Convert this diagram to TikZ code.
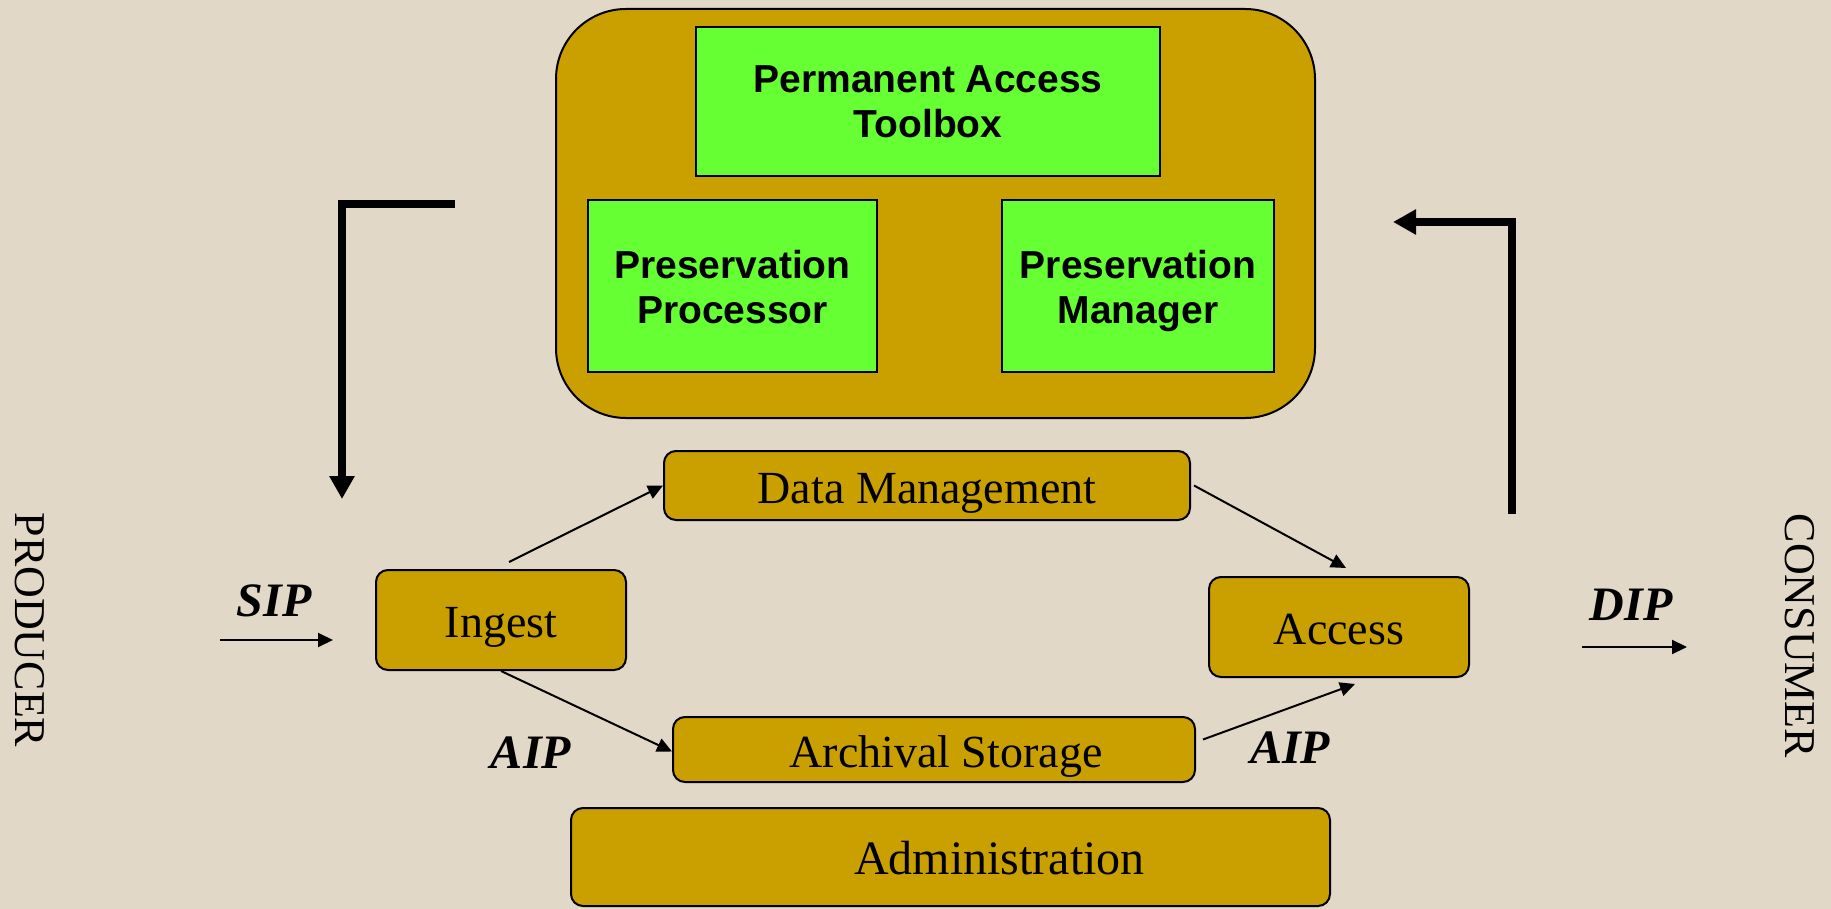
\documentclass[tikz,border=0pt]{standalone}
\usepackage{fontspec}
\setmainfont{Liberation Serif}
\newfontfamily\boxfont{Liberation Sans}
\usetikzlibrary{arrows.meta}
\definecolor{paper}{RGB}{226,216,200}
\definecolor{gold}{RGB}{201,160,0}
\definecolor{lime}{RGB}{102,255,51}

\begin{document}
\begin{tikzpicture}[x=1pt,y=-1pt,
        gold box/.style={draw, line width=2pt, fill=gold, rounded corners=12pt, inner sep=0pt,
                         text height=35pt, text depth=0pt, font=\fontsize{46}{46}\selectfont},
        green box/.style={draw, line width=2pt, fill=lime, inner sep=0pt, align=center,
                          font=\boxfont\bfseries\fontsize{39}{45}\selectfont},
        thin arrow/.style={line width=2pt, -{Triangle[length=15pt,width=14pt]}},
        thick arrow/.style={line width=8pt, miter limit=4, -{Triangle[length=23pt,width=24pt]}},
        flow label/.style={inner sep=0pt, font=\bfseries\itshape\fontsize{48}{48}\selectfont},
        side label/.style={inner sep=0pt, rotate=-90, font=\fontsize{44}{44}\selectfont}]
        \useasboundingbox (0,0) rectangle (1831,909);
        \fill[paper] (0,0) rectangle (1831,909);

        % preservation block
        \node[draw, line width=2pt, fill=gold, rounded corners=70pt,
              minimum width=759pt, minimum height=409pt] (frame) at (935.5,213.5) {};
        \node[green box, minimum width=464pt, minimum height=149pt] (toolbox)   at (928,102)
             {Permanent Access\\Toolbox};
        \node[green box, minimum width=289pt, minimum height=172pt] (processor) at (732.5,286)
             {\rule{0pt}{40pt}Preservation\\Processor\rule[-10pt]{0pt}{10pt}};
        \node[green box, minimum width=272pt, minimum height=172pt] (manager)   at (1138,286)
             {\rule{0pt}{40pt}Preservation\\Manager\rule[-10pt]{0pt}{10pt}};

        % OAIS functions
        \node[gold box, minimum width=526pt, minimum height=69pt]  (datamgmt) at (927,485.5)  {Data Management};
        \node[gold box, minimum width=250pt, minimum height=100pt] (ingest)   at (501,620)    {Ingest};
        \node[gold box, minimum width=260pt, minimum height=100pt] (access)   at (1339,627)   {Access};
        \node[gold box, minimum width=522pt, minimum height=65pt]  (storage)  at (934,749.5)  {\hspace*{24pt}Archival Storage};
        \node[gold box, minimum width=759pt, minimum height=98pt,
              font=\fontsize{48}{48}\selectfont]                   (admin)    at (950.5,857)  {\hspace*{98pt}Administration};

        \node[side label] (producer) at (30,630)   {PRODUCER};
        \node[side label] (consumer) at (1800,636) {CONSUMER};

        \node[flow label] (sip)      at (274,601)  {SIP};
        \node[flow label] (aipin)    at (531,753)  {AIP};
        \node[flow label] (aipout)   at (1290,748) {AIP};
        \node[flow label] (dip)      at (1631,605) {DIP};

        \coordinate (sipstart) at (220,640);
        \coordinate (sipend)   at (333,640);
        \coordinate (dipstart) at (1582,647);
        \coordinate (dipend)   at (1687,647);
        \draw[thin arrow] (sipstart) -- (sipend);
        \draw[thin arrow] (dipstart) -- (dipend);

        \draw[thin arrow] ([xshift=8pt,yshift=7pt]ingest.north) -- (datamgmt.west);
        \draw[thin arrow] (ingest.south) -- ([yshift=-2pt]storage.west);
        \draw[thin arrow] ([xshift=3pt]datamgmt.east) -- ([xshift=7pt,yshift=8pt]access.north);
        \draw[thin arrow] ([xshift=7pt,yshift=10pt]storage.east) -- ([xshift=16pt,yshift=-6pt]access.south);

        % feedback loops
        \coordinate (leftin)    at (455,204);
        \coordinate (leftcorn)  at (342,204);
        \coordinate (leftout)   at (342,499);
        \coordinate (rightin)   at (1512,514);
        \coordinate (rightcorn) at (1512,222);
        \coordinate (rightout)  at (1393,222);
        \draw[thick arrow] (leftin)  -- (leftcorn)  -- (leftout);
        \draw[thick arrow] (rightin) -- (rightcorn) -- (rightout);
      \end{tikzpicture}
\end{document}
